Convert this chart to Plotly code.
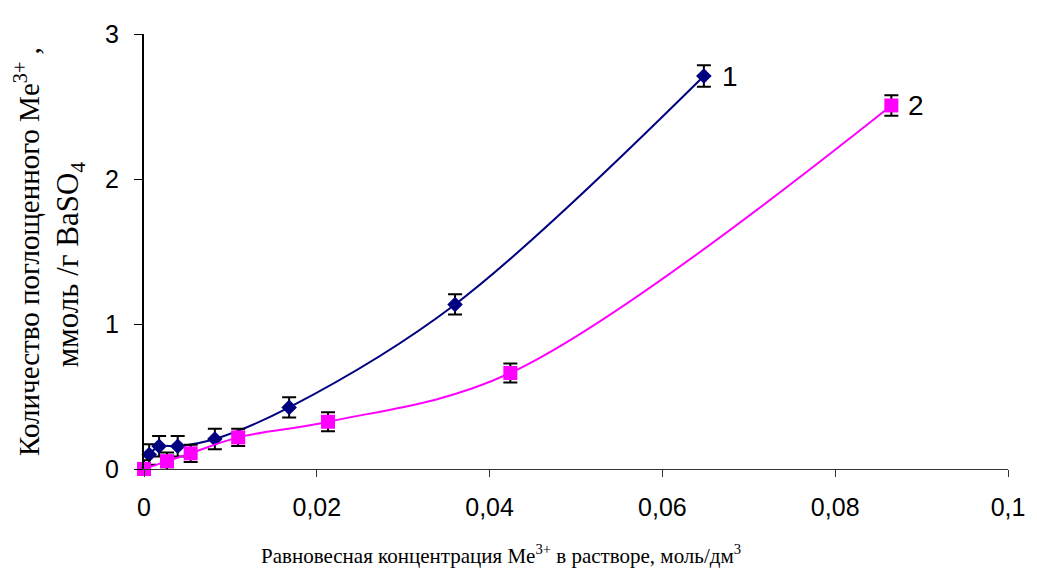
import plotly.graph_objects as go

# Series 1 (diamonds)
x1 = [0.0006, 0.00175, 0.0039, 0.0082, 0.0168, 0.0360, 0.0648]
y1 = [0.10, 0.157, 0.157, 0.207, 0.425, 1.135, 2.71]
e1 = [0.07, 0.07, 0.07, 0.07, 0.07, 0.07, 0.074]

# Series 2 (squares)
x2 = [0.0, 0.00266, 0.0054, 0.0109, 0.0213, 0.0424, 0.0865]
y2 = [0.0, 0.054, 0.108, 0.218, 0.326, 0.662, 2.507]
e2 = [0.06, 0.06, 0.06, 0.06, 0.065, 0.065, 0.07]

x_ticks = [0, 0.02, 0.04, 0.06, 0.08, 0.1]
x_tick_text = ["0", "0,02", "0,04", "0,06", "0,08", "0,1"]
y_ticks = [0, 1, 2, 3]
y_tick_text = ["0", "1", "2", "3"]

series_labels = ["1", "2"]

fig = go.Figure()
fig.add_trace(go.Scatter(
    x=x1, y=y1, mode="lines+markers",
    line=dict(color="#000080", width=2, shape="spline", smoothing=1),
    marker=dict(symbol="diamond", size=12, color="#000080"),
    error_y=dict(type="data", array=e1, visible=True, color="black", thickness=2, width=7),
    cliponaxis=False, showlegend=False))
fig.add_trace(go.Scatter(
    x=x2, y=y2, mode="lines+markers",
    line=dict(color="#FF00FF", width=2, shape="spline", smoothing=1),
    marker=dict(symbol="square", size=14, color="#FF00FF"),
    error_y=dict(type="data", array=e2, visible=True, color="black", thickness=2, width=7),
    cliponaxis=False, showlegend=False))

fig.add_annotation(x=x1[-1], y=y1[-1], text=series_labels[0], showarrow=False,
                   xanchor="left", xshift=16, font=dict(family="Arial", size=28, color="black"))
fig.add_annotation(x=x2[-1], y=y2[-1], text=series_labels[1], showarrow=False,
                   xanchor="left", xshift=15, font=dict(family="Arial", size=28, color="black"))

serif = "Liberation Serif"
fig.add_annotation(xref="paper", yref="paper", x=-0.1354, y=0.499, xanchor="center", yanchor="middle",
                   text="Количество поглощенного Me<sup>3+</sup> ,", textangle=-90, showarrow=False,
                   font=dict(family=serif, size=29, color="black"))
fig.add_annotation(xref="paper", yref="paper", x=-0.0857, y=0.47, xanchor="center", yanchor="middle",
                   text="ммоль /г BaSO<sub>4</sub>", textangle=-90, showarrow=False,
                   font=dict(family=serif, size=31, color="black"))
fig.add_annotation(xref="paper", yref="paper", x=0.1326, y=-0.232, xanchor="left", yanchor="bottom",
                   text="Равновесная концентрация Me<sup>3+</sup> в растворе, моль/дм<sup>3</sup>",
                   showarrow=False, font=dict(family=serif, size=21, color="black"))

fig.update_xaxes(range=[0, 0.1], tickvals=x_ticks, ticktext=x_tick_text, showgrid=False,
                 zeroline=False, showline=True, linecolor="#333333", linewidth=1,
                 ticks="outside", ticklen=7, tickwidth=1, tickcolor="#333333",
                 ticklabelstandoff=9,
                 tickfont=dict(family="Arial", size=25, color="black"))
fig.update_yaxes(range=[0, 3], tickvals=y_ticks, ticktext=y_tick_text, showgrid=False,
                 zeroline=False, showline=True, linecolor="black", linewidth=2,
                 ticks="outside", ticklen=8, tickwidth=1, tickcolor="black",
                 ticklabelstandoff=10,
                 tickfont=dict(family="Arial", size=25, color="black"))

fig.update_layout(width=1029, height=564, plot_bgcolor="white", paper_bgcolor="white",
                  margin=dict(l=136, r=18, t=17, b=103))
fig.write_html("out.html", config={"displayModeBar": False})
